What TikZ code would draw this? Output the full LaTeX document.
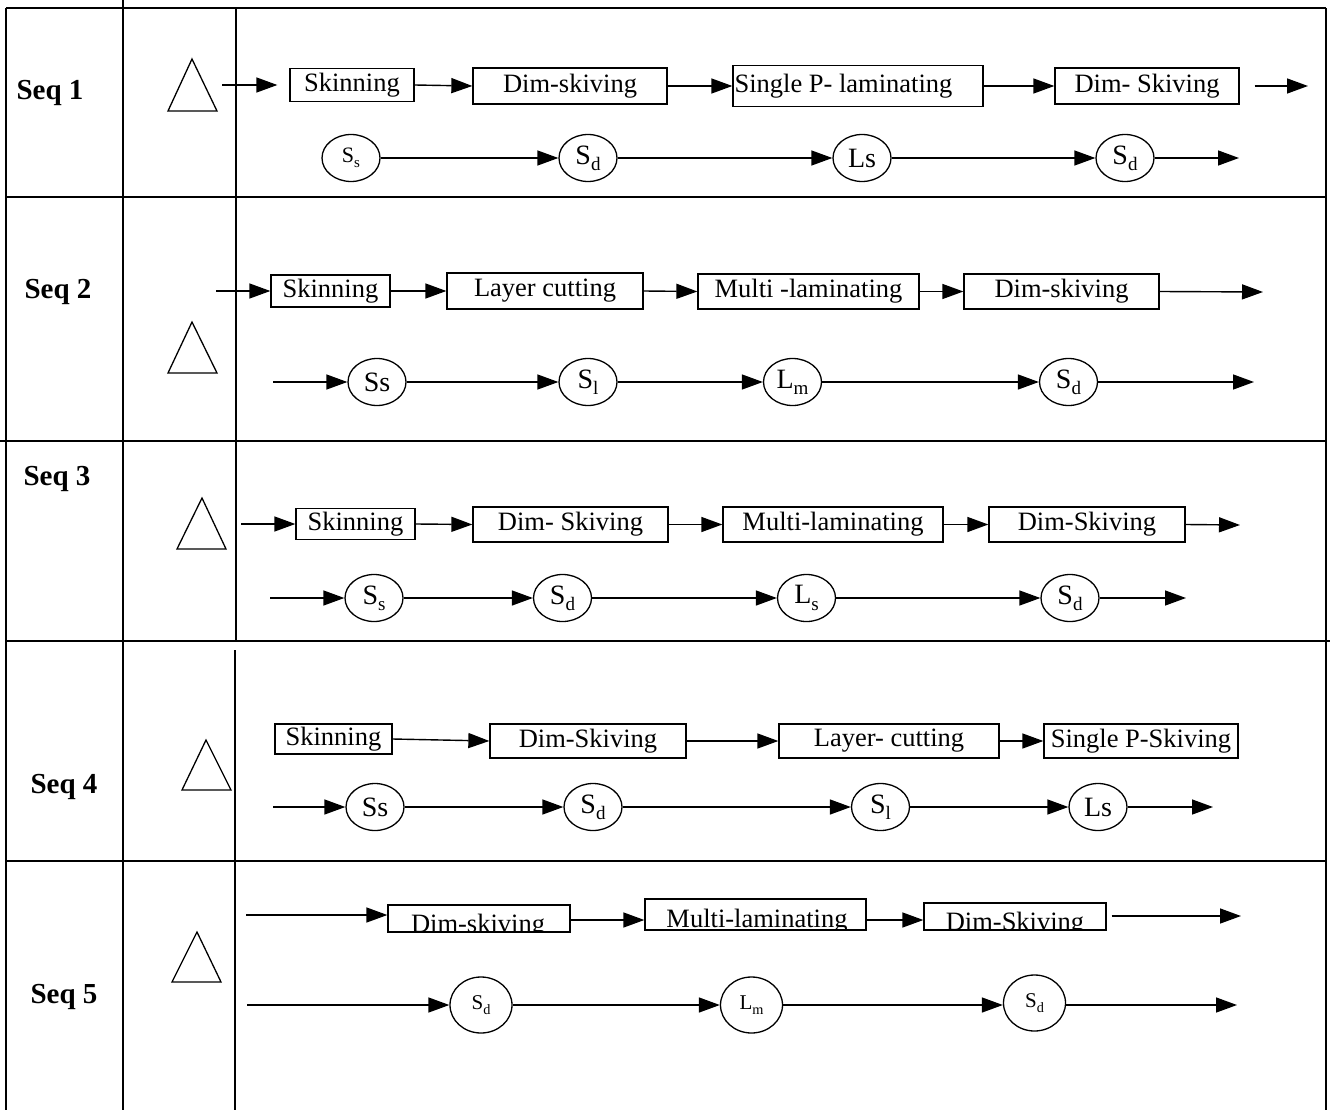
\documentclass[tikz,border=0pt]{standalone}
\usepackage{fontspec}
\usepackage{graphicx}
\setmainfont{Liberation Serif}
\usetikzlibrary{arrows.meta,shapes.geometric}
% lowered, reduced subscript letter as used in the state labels
\newcommand\lowsub[1]{\raisebox{-0.22em}{\scalebox{0.68}{#1}}}

\begin{document}
\begin{tikzpicture}[x=1pt,y=-1pt,
  rule/.style={line width=2pt},
  flow/.style={line width=1.4pt,-{Triangle[length=21pt,width=15pt]}},
  pbox/.style={draw,line width=1.3pt,rectangle,inner sep=0pt,font=\fontsize{26.5}{30}\selectfont},
  boxtext/.style={inner sep=0pt,font=\fontsize{26.5}{30}\selectfont},
  pstate/.style={draw,line width=1.3pt,ellipse,inner sep=0pt,minimum width=58pt,minimum height=47pt,font=\fontsize{28}{30}\selectfont},
  smallstate/.style={pstate,minimum width=62pt,minimum height=56pt,font=\fontsize{21}{24}\selectfont},
  seqlab/.style={anchor=base,inner sep=0pt,font=\bfseries\fontsize{29}{32}\selectfont},
  delay/.style={line width=1.3pt,line join=miter}]

\fill[white] (0,0) rectangle (1330,1110);
\useasboundingbox (0,0) rectangle (1330,1110);

% table rules
\draw[rule] (6,8) -- (1326,8);
\draw[rule] (6,8) -- (6,1110);
\draw[rule] (123,0) -- (123,1110);
\draw[rule] (236,8) -- (236,641);
\draw[line width=1.6pt] (235,650) -- (235,1110);
\draw[rule] (1326,8) -- (1326,1110);
\draw[rule] (6,197) -- (1326,197);
\draw[rule] (0,441) -- (1326,441);
\draw[rule] (6,641) -- (1330,641);
\draw[rule] (6,861) -- (1326,861);

% sequence labels
\node[seqlab] (q1) at (50,100) {Seq 1};
\node[seqlab] (q2) at (58,298) {Seq 2};
\node[seqlab] (q3) at (57,485) {Seq 3};
\node[seqlab] (q4) at (64,793) {Seq 4};
\node[seqlab] (q5) at (64,1003) {Seq 5};

% storage triangles
\draw[delay] (192,59) -- (217,111) -- (168,111) -- cycle;
\draw[delay] (192,322) -- (217,373) -- (168,373) -- cycle;
\draw[delay] (202,498) -- (226,549) -- (177,549) -- cycle;
\draw[delay] (206,740) -- (231,790) -- (182,790) -- cycle;
\draw[delay] (197,932) -- (221,982) -- (172,982) -- cycle;

% ---------- Seq 1 ----------
\coordinate (a0) at (222,85);
\node[pbox,minimum width=124pt,minimum height=33pt] (a1) at (352,85) {Skinning};
\node[pbox,minimum width=194pt,minimum height=36pt] (a2) at (570,86) {Dim-skiving};
\node[pbox,minimum width=250pt,minimum height=41pt] (a3) at (858,86) {};
\node[boxtext,anchor=west] (a3t) at ([xshift=2pt]a3.west) {Single P- laminating};
\node[pbox,minimum width=184pt,minimum height=36pt] (a4) at (1147,86) {Dim- Skiving};
\coordinate (a5) at (1308,86);
\draw[flow,shorten >=12pt] (a0) -- (a1.west);
\draw[flow] (a1.east) -- (a2.west);
\draw[flow] (a2.east) -- (a3.west);
\draw[flow] (a3.east) -- (a4.west);
\draw[flow,shorten <=15pt] (a4.east) -- (a5);

\node[pstate,font=\fontsize{22}{24}\selectfont] (c1) at (351,158) {S\lowsub{s}};
\node[pstate] (c2) at (588,158) {S\lowsub{d}};
\node[pstate] (c3) at (862,158) {Ls};
\node[pstate] (c4) at (1125,158) {S\lowsub{d}};
\coordinate (c5) at (1239,158);
\draw[flow] (c1.east) -- (c2.west);
\draw[flow] (c2.east) -- (c3.west);
\draw[flow] (c3.east) -- (c4.west);
\draw[flow] (c4.east) -- (c5);

% ---------- Seq 2 ----------
\coordinate (b0) at (216,291);
\node[pbox,minimum width=119pt,minimum height=32pt] (b1) at (330.5,291) {Skinning};
\node[pbox,minimum width=196pt,minimum height=36pt] (b2) at (545,291) {Layer cutting};
\node[pbox,minimum width=221pt,minimum height=35pt] (b3) at (808.5,291.5) {Multi -laminating};
\node[pbox,minimum width=195pt,minimum height=35pt] (b4) at (1061.5,291.5) {Dim-skiving};
\coordinate (b5) at (1263,292);
\draw[flow] (b0) -- (b1.west);
\draw[flow] (b1.east) -- (b2.west);
\draw[flow] (b2.east) -- (b3.west);
\draw[flow] (b3.east) -- (b4.west);
\draw[flow] (b4.east) -- (b5);

\coordinate (d0) at (273,382);
\node[pstate] (d1) at (377,382) {Ss};
\node[pstate] (d2) at (588,382) {S\lowsub{l}};
\node[pstate] (d3) at (792.5,382) {L\lowsub{m}};
\node[pstate] (d4) at (1068.5,382) {S\lowsub{d}};
\coordinate (d5) at (1254,382);
\draw[flow] (d0) -- (d1.west);
\draw[flow] (d1.east) -- (d2.west);
\draw[flow] (d2.east) -- (d3.west);
\draw[flow] (d3.east) -- (d4.west);
\draw[flow] (d4.east) -- (d5);

% ---------- Seq 3 ----------
\coordinate (e0) at (241,524);
\node[pbox,minimum width=119pt,minimum height=31pt] (e1) at (355.5,524) {Skinning};
\node[pbox,minimum width=195pt,minimum height=35pt] (e2) at (570.5,524.5) {Dim- Skiving};
\node[pbox,minimum width=220pt,minimum height=35pt] (e3) at (833,524.5) {Multi-laminating};
\node[pbox,minimum width=196pt,minimum height=35pt] (e4) at (1087,524.5) {Dim-Skiving};
\coordinate (e5) at (1240,525);
\draw[flow] (e0) -- (e1.west);
\draw[flow] (e1.east) -- (e2.west);
\draw[flow] (e2.east) -- (e3.west);
\draw[flow] (e3.east) -- (e4.west);
\draw[flow] (e4.east) -- (e5);

\coordinate (f0) at (270,598);
\node[pstate] (f1) at (374,598) {S\lowsub{s}};
\node[pstate] (f2) at (562.5,598) {S\lowsub{d}};
\node[pstate] (f3) at (806.5,598) {L\lowsub{s}};
\node[pstate] (f4) at (1070,598) {S\lowsub{d}};
\coordinate (f5) at (1186,598);
\draw[flow] (f0) -- (f1.west);
\draw[flow] (f1.east) -- (f2.west);
\draw[flow] (f2.east) -- (f3.west);
\draw[flow] (f3.east) -- (f4.west);
\draw[flow] (f4.east) -- (f5);

% ---------- Seq 4 ----------
\node[pbox,minimum width=117pt,minimum height=30pt] (g1) at (333.5,739) {Skinning};
\node[pbox,minimum width=196pt,minimum height=34pt] (g2) at (588,741) {Dim-Skiving};
\node[pbox,minimum width=220pt,minimum height=34pt] (g3) at (889,741) {Layer- cutting};
\node[pbox,minimum width=194pt,minimum height=34pt] (g4) at (1141,741) {Single P-Skiving};
\draw[flow] (g1.east) -- (g2.west);
\draw[flow] (g2.east) -- (g3.west);
\draw[flow] (g3.east) -- (g4.west);

\coordinate (h0) at (273,807);
\node[pstate] (h1) at (375,807) {Ss};
\node[pstate] (h2) at (593,807) {S\lowsub{d}};
\node[pstate] (h3) at (880.5,807) {S\lowsub{l}};
\node[pstate] (h4) at (1098,807) {Ls};
\coordinate (h5) at (1213,807);
\draw[flow] (h0) -- (h1.west);
\draw[flow] (h1.east) -- (h2.west);
\draw[flow] (h2.east) -- (h3.west);
\draw[flow] (h3.east) -- (h4.west);
\draw[flow] (h4.east) -- (h5);

% ---------- Seq 5 ----------
\coordinate (k0) at (246,915);
\coordinate (kl) at (0,920);
\node[pbox,minimum width=182pt,minimum height=27pt] (k1) at (479,918.5) {};
\node[pbox,minimum width=221pt,minimum height=31pt] (k2) at (755.5,914.5) {};
\node[pbox,minimum width=182pt,minimum height=27pt] (k3) at (1015,916.5) {};
\begin{scope}
  \clip (k1.south west) rectangle (k1.north east);
  \node[boxtext,anchor=base] (k1t) at (478,932.5) {Dim-skiving};
\end{scope}
\begin{scope}
  \clip (k2.south west) rectangle (k2.north east);
  \node[boxtext,anchor=base] (k2t) at (757,927.5) {Multi-laminating};
\end{scope}
\begin{scope}
  \clip (k3.south west) rectangle (k3.north east);
  \node[boxtext,anchor=base] (k3t) at (1015,930.5) {Dim-Skiving};
\end{scope}
\coordinate (k4) at (1241,916);
\draw[flow] (k0) -- (k1.west |- k0);
\draw[flow] (k1.east |- kl) -- (k2.west |- kl);
\draw[flow] (k2.east |- kl) -- (k3.west |- kl);
\draw[flow,shorten <=5pt] (k3.east |- k4) -- (k4);

\coordinate (m0) at (247,1005);
\node[smallstate] (m1) at (481,1005) {S\lowsub{d}};
\node[smallstate] (m2) at (751.5,1005) {L\lowsub{m}};
\node[smallstate] (m3) at (1034.5,1003) {S\lowsub{d}};
\coordinate (m4) at (1237,1005);
\draw[flow] (m0) -- (m1.west);
\draw[flow] (m1.east) -- (m2.west);
\draw[flow] (m2.east) -- (m3.west |- m0);
\draw[flow] (m3.east |- m0) -- (m4);

\end{tikzpicture}
\end{document}
